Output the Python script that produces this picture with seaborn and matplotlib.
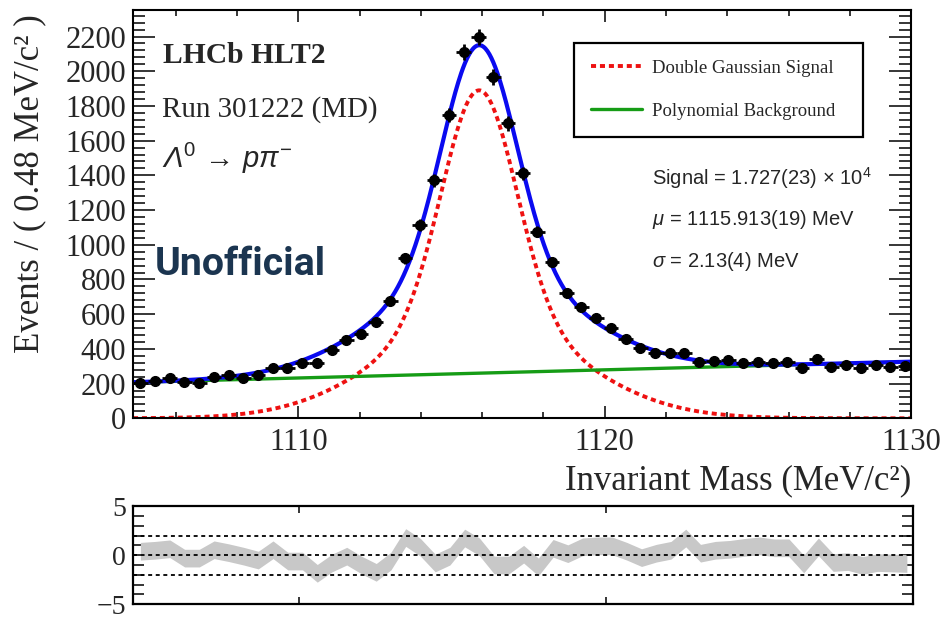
import numpy as np
import pandas as pd
import matplotlib
matplotlib.use("Agg")
import matplotlib.pyplot as plt
import seaborn as sns
from matplotlib.ticker import MultipleLocator, NullFormatter

# Binned data (0.48 MeV/c^2 bins)
first_bin_centre = 1104.84
bin_width = 0.48
events = [205, 216, 230, 211, 205, 236, 249, 230, 249, 288,
          288, 316, 316, 393, 451, 485, 556, 676, 922, 1113,
          1372, 1747, 2111, 2198, 1968, 1699, 1411, 1075, 902, 720,
          643, 580, 519, 458, 404, 378, 374, 374, 326, 330,
          336, 316, 326, 316, 326, 288, 340, 297, 305, 292,
          307, 297, 302]
pulls = [0.4, 0.5, 0.65, -0.3, -0.3, 0.55, 0.25, -0.1, -0.5, 0.55,
         -0.6, -0.6, -1.85, -0.8, -0.1, -1.0, -1.75, -0.6, 1.8, 0.8,
         -0.8, -0.1, 1.75, 0.85, -1.0, -1.0, 0.1, -1.2, 0.7, 0.15,
         0.85, 0.95, 0.95, 0.4, -0.25, 0.2, 0.5, 1.75, 0.2, 0.5,
         0.6, 0.8, 0.95, 0.75, 0.75, -0.9, 0.85, -0.75, -0.65, -1.05,
         -0.75, -0.8, -0.85]
pull_err = 0.9

# Fit model parameters (double gaussian + linear background)
mu = 1115.9
core_amp, core_sigma = 1320, 1.2
tail_amp, tail_sigma = 570, 3.1
bkg_ref, bkg_c0, bkg_c1 = 1104.6, 207, 4.7

x_lo, x_hi = 1104.6, 1130.0
y_hi = 2353

stat_lines = [r"Signal = 1.727(23) $\times$ 10$^{4}$",
              r"$\mu$ = 1115.913(19) MeV",
              r"$\sigma$ = 2.13(4) MeV"]

blue = "#0a0af0"
red = "#ee1111"
green = "#169c16"
serif = ["Liberation Serif", "DejaVu Serif"]
sans = ["Liberation Sans", "DejaVu Sans"]


def main():
    sns.set_theme(style="ticks")
    plt.rcParams['font.family'] = serif
    plt.rcParams['mathtext.fontset'] = 'custom'
    plt.rcParams['mathtext.rm'] = 'Liberation Sans'
    plt.rcParams['mathtext.it'] = 'Liberation Sans:italic'
    plt.rcParams['mathtext.bf'] = 'Liberation Sans:bold'
    # italic capital lambda (mathtext forces greek capitals upright in \mathit)
    plt.rcParams['mathtext.sf'] = 'Liberation Sans:italic'
    plt.rcParams['axes.unicode_minus'] = True

    mass = first_bin_centre + bin_width * np.arange(len(events))
    counts = np.asarray(events, dtype=float)

    grid = np.linspace(x_lo, x_hi, 800)
    sig = (core_amp * np.exp(-0.5 * ((grid - mu) / core_sigma) ** 2)
           + tail_amp * np.exp(-0.5 * ((grid - mu) / tail_sigma) ** 2))
    bkg = bkg_c0 + bkg_c1 * (grid - bkg_ref)
    curves = pd.DataFrame({"mass": grid, "Signal": sig, "Background": bkg,
                           "Total": sig + bkg})

    fig = plt.figure(figsize=(9.4, 6.21), dpi=100)
    ax = fig.add_axes([0.1415, 0.3264, 0.8277, 0.6575])
    rax = fig.add_axes([0.1415, 0.027, 0.8298, 0.158])

    sns.lineplot(data=curves, x="mass", y="Signal", ax=ax, color=red, lw=2.8,
                 dashes=False, label="Double Gaussian Signal")
    ax.lines[-1].set_dashes((1.3, 1.0))
    ax.lines[-1].set_dash_capstyle("butt")
    sns.lineplot(data=curves, x="mass", y="Background", ax=ax, color=green,
                 lw=2.4, label="Polynomial Background")
    sns.lineplot(data=curves, x="mass", y="Total", ax=ax, color=blue, lw=3.0)
    ax.errorbar(mass, counts, yerr=np.sqrt(counts), xerr=bin_width / 2,
                fmt='o', color='black', ms=7, elinewidth=2.0, capsize=0,
                zorder=5)

    ax.set_xlim(x_lo, x_hi)
    ax.set_ylim(0, y_hi)
    ax.xaxis.set_major_locator(MultipleLocator(10))
    ax.xaxis.set_minor_locator(MultipleLocator(2))
    ax.yaxis.set_major_locator(MultipleLocator(200))
    ax.yaxis.set_minor_locator(MultipleLocator(40))
    ax.tick_params(which='both', direction='in', top=True, right=True,
                   width=1.1, color='black', labelsize=22)
    ax.tick_params(axis='y', which='major', length=15.5, pad=5)
    ax.tick_params(axis='y', which='minor', length=8.5)
    ax.tick_params(axis='x', which='major', length=8.5, pad=7)
    ax.tick_params(axis='x', which='minor', length=4)
    for s in ax.spines.values():
        s.set_linewidth(1.5)
        s.set_color('black')
        s.set_visible(True)

    ax.set_xlabel("Invariant Mass (MeV/c²)", fontsize=25, loc='right',
                  labelpad=5)
    ax.set_ylabel("Events / ( 0.48 MeV/c² )", fontsize=25, loc='top')
    ax.yaxis.set_label_coords(-0.112, 0.99)

    leg = ax.legend(loc='upper left', bbox_to_anchor=(0.567, 0.70, 0.3715, 0.22),
                    mode='expand', borderaxespad=0, fontsize=13.5,
                    handlelength=2.7, handletextpad=0.55, labelspacing=1.4,
                    borderpad=0.9, fancybox=False, frameon=True)
    leg.get_frame().set_edgecolor('black')
    leg.get_frame().set_linewidth(1.6)
    leg.get_frame().set_alpha(1)

    W, H = 940.0, 621.0
    fig.text(163 / W, 1 - 63.3 / H, "LHCb HLT2", fontsize=21.3,
             fontweight='bold', va='baseline')
    fig.text(162 / W, 1 - 116.7 / H, "Run 301222 (MD)", fontsize=20.9,
             va='baseline')
    fig.text(162 / W, 1 - 168.3 / H,
             r"$\mathsf{Λ}^{0}\,\rightarrow\,p\pi^{-}$", fontsize=21,
             va='baseline')
    fig.text(155 / W, 1 - 275 / H, "Unofficial", fontsize=28.3,
             fontweight='bold', color="#1b3550",
             family=["Roboto", "DejaVu Sans"], va='baseline')
    for line, yb in zip(stat_lines, [185, 225, 266.7]):
        fig.text(651.7 / W, 1 - yb / H, line, fontsize=14.5, family=sans,
                 va='baseline')

    # residuals
    rax.fill_between(mass, np.asarray(pulls) - pull_err,
                     np.asarray(pulls) + pull_err, color="#c8c8c8", lw=0)
    for level in (-2, 0, 2):
        rax.axhline(level, color='black', lw=1.3, dashes=(2.2, 2.0))
    rax.set_xlim(x_lo, x_hi)
    rax.set_ylim(-5, 5)
    rax.xaxis.set_major_locator(MultipleLocator(10))
    rax.xaxis.set_major_formatter(NullFormatter())
    rax.yaxis.set_major_locator(MultipleLocator(5))
    rax.yaxis.set_minor_locator(MultipleLocator(1))
    rax.tick_params(which='both', direction='in', top=True, right=True,
                    width=1.1, color='black', labelsize=20)
    rax.tick_params(axis='y', which='major', length=9, pad=5)
    rax.tick_params(axis='y', which='minor', length=8)
    rax.tick_params(axis='x', which='major', length=5)
    rax.set_xlabel("")
    rax.set_ylabel("")
    for s in rax.spines.values():
        s.set_linewidth(1.6)
        s.set_color('black')
        s.set_visible(True)

    fig.savefig("out.png", dpi=100)


if __name__ == "__main__":
    main()
